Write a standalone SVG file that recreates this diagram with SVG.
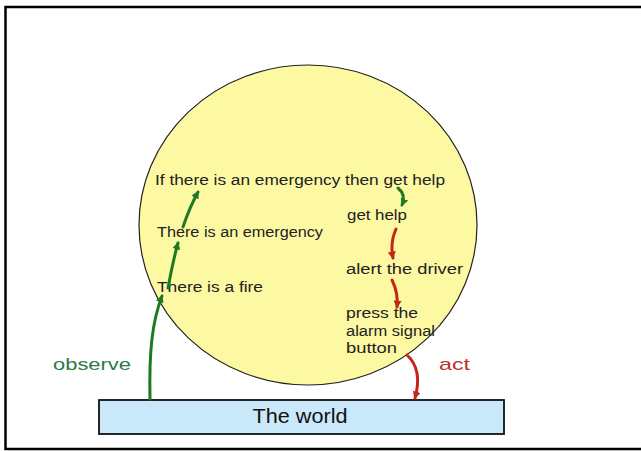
<svg xmlns="http://www.w3.org/2000/svg" width="641" height="451" viewBox="0 0 641 451">
<defs>
<style>
.t{font-family:"Liberation Sans",Arial,sans-serif;font-size:14px;fill:#222}
.g{fill:none;stroke:#1e7a22;stroke-width:3;stroke-linecap:round}
.r{fill:none;stroke:#c4261c;stroke-width:3;stroke-linecap:round}
</style>
<marker id="ag" viewBox="0 0 10 10" refX="8" refY="5" markerWidth="8" markerHeight="8" markerUnits="userSpaceOnUse" orient="auto">
<path d="M0,0 L10,5 L0,10 Z" fill="#1e7a22"/>
</marker>
<marker id="ar" viewBox="0 0 10 10" refX="8" refY="5" markerWidth="8" markerHeight="8" markerUnits="userSpaceOnUse" orient="auto">
<path d="M0,0 L10,5 L0,10 Z" fill="#c4261c"/>
</marker>
</defs>
<rect width="641" height="451" fill="#fff"/>
<path d="M643,7 H5.5 V449 H643" fill="none" stroke="#000" stroke-width="2.5"/>
<g id="mind">
<ellipse cx="308" cy="225" rx="169" ry="160" fill="#fdf8a2" stroke="#222" stroke-width="1.2"/>
</g>
<g id="world">
<rect x="99" y="400" width="405" height="34" fill="#c9e8f9" stroke="#111" stroke-width="1.8"/>
<text x="300" y="423" text-anchor="middle" font-family="'Liberation Sans',Arial,sans-serif" font-size="20" fill="#111" textLength="95" lengthAdjust="spacingAndGlyphs">The world</text>
</g>
<g id="rule"><text class="t" x="155" y="185" textLength="290" lengthAdjust="spacingAndGlyphs">If there is an emergency then get help</text></g>
<g id="emergency"><text class="t" x="157" y="237" textLength="166" lengthAdjust="spacingAndGlyphs">There is an emergency</text></g>
<g id="fire"><text class="t" x="157" y="292" textLength="106" lengthAdjust="spacingAndGlyphs">There is a fire</text></g>
<g id="gethelp"><text class="t" x="347" y="220" textLength="60" lengthAdjust="spacingAndGlyphs">get help</text></g>
<g id="alert"><text class="t" x="346" y="274" textLength="117" lengthAdjust="spacingAndGlyphs">alert the driver</text></g>
<g id="press">
<text class="t" x="346" y="318" textLength="72" lengthAdjust="spacingAndGlyphs">press the</text>
<text class="t" x="346" y="336" textLength="89" lengthAdjust="spacingAndGlyphs">alarm signal</text>
<text class="t" x="346" y="353" textLength="51" lengthAdjust="spacingAndGlyphs">button</text>
</g>
<g id="connectors">
<path class="g" d="M150,399 C149,352 152,322 162,296" marker-end="url(#ag)"/>
<path class="g" d="M168,288 C171,272 174,257 178,243" marker-end="url(#ag)"/>
<path class="g" d="M183,227 C187,215 192,203 198,192" marker-end="url(#ag)"/>
<path class="g" d="M398,188 C404,193 405,198 402,205" marker-end="url(#ag)"/>
<path class="r" d="M396,229 C392,238 391,248 393,258" marker-end="url(#ar)"/>
<path class="r" d="M392,280 C396,288 398,297 397,307" marker-end="url(#ar)"/>
<path class="r" d="M407,355 C418,365 420,380 415,398" marker-end="url(#ar)"/>
<text x="53" y="370" font-family="'Liberation Sans',Arial,sans-serif" font-size="17" fill="#2a7a45" textLength="78" lengthAdjust="spacingAndGlyphs">observe</text>
<text x="439" y="370" font-family="'Liberation Sans',Arial,sans-serif" font-size="17" fill="#c0302a" textLength="31" lengthAdjust="spacingAndGlyphs">act</text>
</g>
</svg>
